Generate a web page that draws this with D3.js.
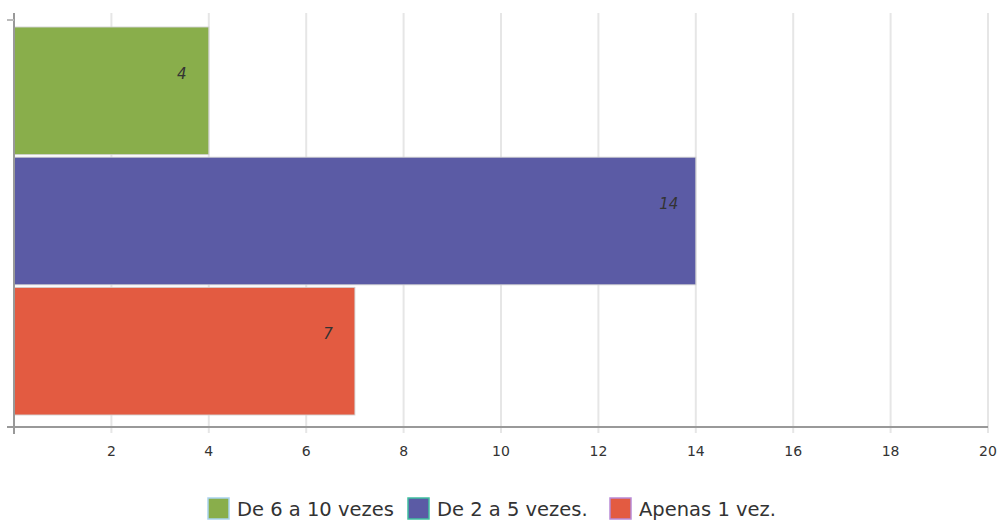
<!DOCTYPE html>
<html lang="pt">
<head>
<meta charset="UTF-8" />
<title>Bar chart</title>
<script src="https://d3js.org/d3.v7.min.js"></script>
<style>
  body { margin: 0; background: #fff; }
  text { font-family: "DejaVu Sans", sans-serif; }
</style>
</head>
<body>
<script>
    var categories = ["De 6 a 10 vezes", "De 2 a 5 vezes.", "Apenas 1 vez."];
    var values = [4, 14, 7];
    var colors = ["#89ae4b", "#5b5ba5", "#e35b41"];
    var swatchBorders = ["#a9d3ee", "#3fbfa0", "#b98ad6"];
    var xTicks = [2, 4, 6, 8, 10, 12, 14, 16, 18, 20];

    var w = 1000;
    var h = 521;
    var plotLeft = 14, plotRight = 988, plotTop = 13, plotBottom = 427;

    var svg = d3.select("body")
        .append("svg")
        .attr("width", w)
        .attr("height", h);

    var xScale = d3.scaleLinear()
        .domain([0, 20])
        .range([plotLeft, plotRight]);

    var yScale = d3.scaleBand()
        .domain(categories)
        .range([plotTop + 1, plotBottom + 1])
        .paddingInner(0.02)
        .paddingOuter(0.1);

    // grid lines
    svg.selectAll("line.grid")
        .data(xTicks)
        .enter()
        .append("line")
        .attr("class", "grid")
        .attr("x1", function (d) { return xScale(d); })
        .attr("x2", function (d) { return xScale(d); })
        .attr("y1", plotTop)
        .attr("y2", plotBottom + 6)
        .attr("stroke", "#e6e6e6")
        .attr("stroke-width", 2);

    // bars
    svg.selectAll("rect.bar")
        .data(values)
        .enter()
        .append("rect")
        .attr("class", "bar")
        .attr("x", xScale(0))
        .attr("y", function (d, i) { return yScale(categories[i]); })
        .attr("width", function (d) { return xScale(d) - xScale(0); })
        .attr("height", yScale.bandwidth())
        .attr("fill", function (d, i) { return colors[i]; })
        .attr("stroke", "rgba(210,210,210,0.9)")
        .attr("stroke-width", 1);

    // value labels
    svg.selectAll("text.value")
        .data(values)
        .enter()
        .append("text")
        .attr("class", "value")
        .text(function (d) { return d; })
        .attr("x", function (d) { return xScale(d) - 27; })
        .attr("y", function (d, i) { return yScale(categories[i]) + 52; })
        .attr("text-anchor", "middle")
        .attr("font-style", "italic")
        .attr("font-size", "15px")
        .attr("fill", "#333");

    // axes
    svg.append("line")
        .attr("x1", plotLeft - 7).attr("x2", plotRight)
        .attr("y1", plotBottom).attr("y2", plotBottom)
        .attr("stroke", "#999").attr("stroke-width", 2);
    svg.append("line")
        .attr("x1", plotLeft).attr("x2", plotLeft)
        .attr("y1", plotTop).attr("y2", plotBottom + 7)
        .attr("stroke", "#999").attr("stroke-width", 2);
    svg.append("line")
        .attr("x1", plotLeft - 7).attr("x2", plotLeft)
        .attr("y1", 20).attr("y2", 20)
        .attr("stroke", "#bbb").attr("stroke-width", 2);

    svg.selectAll("text.tick")
        .data(xTicks)
        .enter()
        .append("text")
        .attr("class", "tick")
        .text(function (d) { return d; })
        .attr("x", function (d) { return xScale(d); })
        .attr("y", 456)
        .attr("text-anchor", "middle")
        .attr("font-size", "14px")
        .attr("fill", "#333");

    // legend
    var legendX = [207, 407, 609];
    var legend = svg.selectAll("g.legend")
        .data(categories)
        .enter()
        .append("g")
        .attr("class", "legend")
        .attr("transform", function (d, i) { return "translate(" + legendX[i] + ",497)"; });

    legend.append("rect")
        .attr("x", 1).attr("y", 1)
        .attr("width", 21).attr("height", 21)
        .attr("fill", function (d, i) { return colors[i]; })
        .attr("stroke", function (d, i) { return swatchBorders[i]; })
        .attr("stroke-width", 1.5);

    legend.append("text")
        .text(function (d) { return d; })
        .attr("x", 30)
        .attr("y", 19)
        .attr("font-size", "19.5px")
        .attr("fill", "#333");
</script>
</body>
</html>
